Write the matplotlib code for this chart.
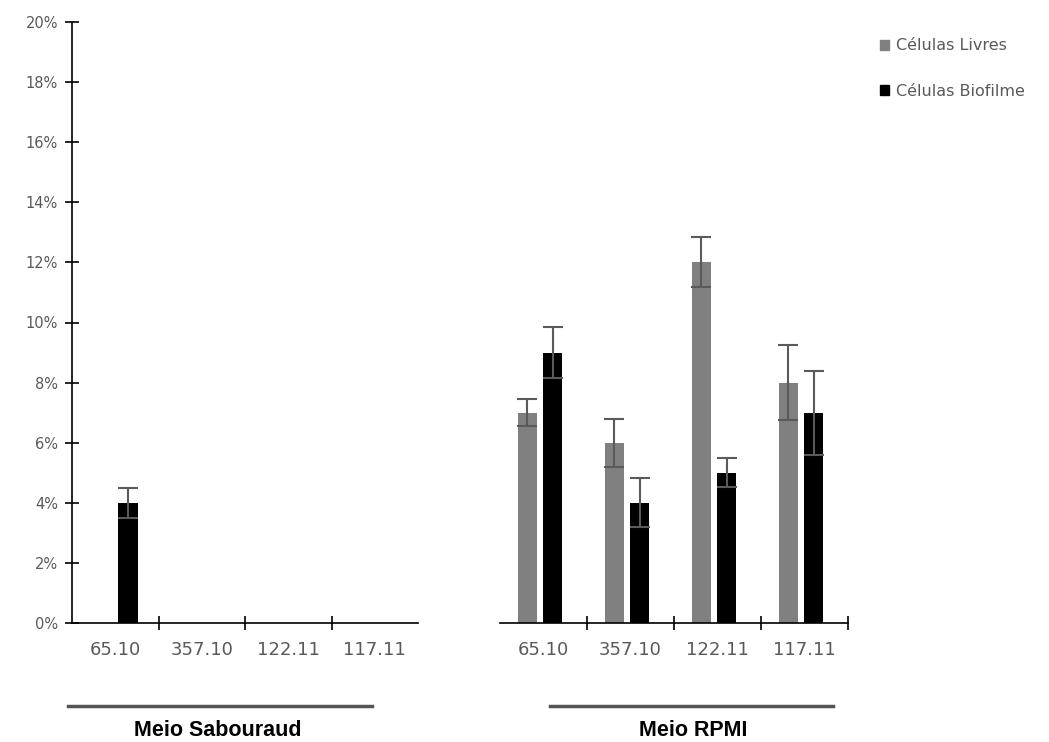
import numpy as np
import matplotlib
matplotlib.use("Agg")
import matplotlib.pyplot as plt
from matplotlib.patches import Patch

# data (percent)
strains = ["65.10", "357.10", "122.11", "117.11"]
sab_livres = [0, 0, 0, 0]
sab_livres_err = [0, 0, 0, 0]
sab_biofilme = [4, 0, 0, 0]
sab_biofilme_err = [0.49, 0, 0, 0]
rpmi_livres = [7, 6, 12, 8]
rpmi_livres_err = [0.45, 0.8, 0.83, 1.24]
rpmi_biofilme = [9, 4, 5, 7]
rpmi_biofilme_err = [0.84, 0.82, 0.49, 1.4]

gray = "#808080"
black = "#000000"
text_col = "#595959"
err_col = "#5a5a5a"
bw = 0.225
off = 0.145

fig = plt.figure(figsize=(10.49, 7.42), dpi=100)
ax1 = fig.add_axes([72 / 1049, 119 / 742, 346 / 1049, 601 / 742])
ax2 = fig.add_axes([500 / 1049, 119 / 742, 348 / 1049, 601 / 742])


def draw(ax, livres, livres_err, bio, bio_err, shift=0.0):
    x = np.arange(len(strains))
    ax.bar(x - off + shift, livres, bw, color=gray)
    ax.bar(x + off + shift, bio, bw, color=black)
    for xs, vals, errs in [(x - off + shift, livres, livres_err), (x + off + shift, bio, bio_err)]:
        m = np.array(vals) > 0
        ax.errorbar(xs[m], np.array(vals)[m], yerr=np.array(errs)[m], fmt="none",
                    ecolor=err_col, elinewidth=1.5, capsize=7, capthick=1.5)
    ax.set_xlim(-0.5, 3.5)
    ax.set_ylim(0, 20)
    ax.set_xticks(x)
    ax.set_xticklabels(strains, fontsize=13, color=text_col)
    ax.tick_params(axis="x", which="major", length=0, pad=13)
    ax.tick_params(axis="x", which="minor", direction="inout", length=10, width=1.2)
    for s in ["top", "right"]:
        ax.spines[s].set_visible(False)
    ax.spines["bottom"].set_linewidth(1.2)


draw(ax1, sab_livres, sab_livres_err, sab_biofilme, sab_biofilme_err)
draw(ax2, rpmi_livres, rpmi_livres_err, rpmi_biofilme, rpmi_biofilme_err, shift=-0.04)

ax1.set_xticks([0.5, 1.5, 2.5], minor=True)
ax2.set_xticks([0.5, 1.5, 2.5, 3.5], minor=True)

ax1.set_yticks(np.arange(0, 21, 2))
ax1.set_yticklabels([f"{v}%" for v in range(0, 21, 2)], fontsize=10.5, color=text_col)
ax1.tick_params(axis="y", direction="inout", length=10, width=1.2, pad=5)
ax1.spines["left"].set_linewidth(1.2)

ax2.spines["left"].set_visible(False)
ax2.set_yticks([])

# group labels with lines beneath the axes
fig.add_artist(plt.Line2D([68 / 1049, 372 / 1049], [36 / 742, 36 / 742], color="#555555", lw=2.5))
fig.add_artist(plt.Line2D([550 / 1049, 833 / 1049], [36 / 742, 36 / 742], color="#555555", lw=2.5))
fig.text(218 / 1049, 11 / 742, "Meio Sabouraud", ha="center", va="center",
         fontsize=15.5, fontweight="bold", family="Liberation Sans")
fig.text(693 / 1049, 11 / 742, "Meio RPMI", ha="center", va="center",
         fontsize=15.5, fontweight="bold", family="Liberation Sans")

handles = [Patch(color=gray, label="Células Livres"), Patch(color=black, label="Células Biofilme")]
leg = fig.legend(handles=handles, loc="upper left", bbox_to_anchor=(866 / 1049, 718 / 742),
                 frameon=False, fontsize=11.5, handlelength=0.55, handleheight=0.55,
                 handletextpad=0.4, labelspacing=1.9)
for t in leg.get_texts():
    t.set_color(text_col)

fig.savefig("out.png", dpi=100)
